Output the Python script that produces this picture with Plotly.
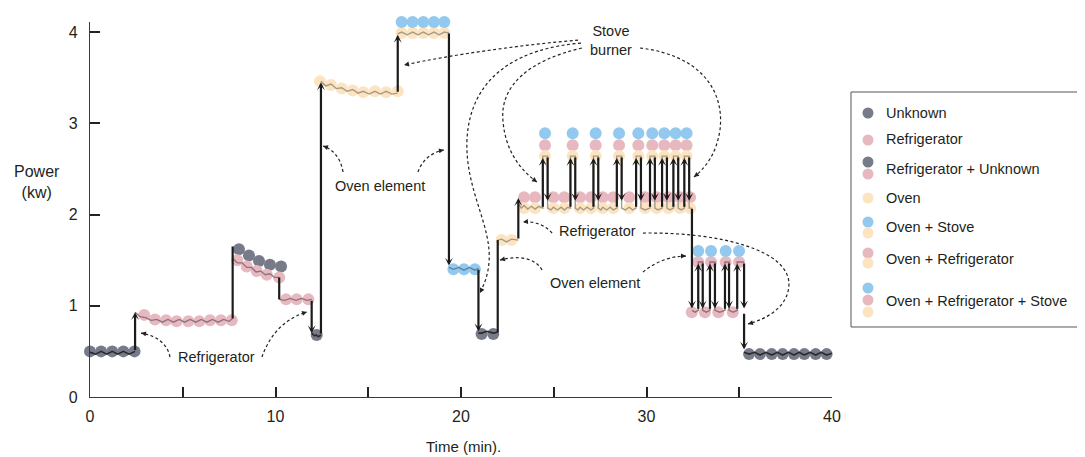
import math
import plotly.graph_objects as go

# ---------------- data (time in minutes, power in kW) ----------------
unknown_t = [0.0, 0.6, 1.2, 1.8, 2.4, 8.03, 8.57, 9.11, 9.70, 10.30, 12.22, 21.11, 21.74,
             35.53, 36.12, 36.75, 37.34, 37.95, 38.51, 39.12, 39.71]
unknown_p = [0.50, 0.50, 0.50, 0.50, 0.50, 1.62, 1.55, 1.49, 1.45, 1.43, 0.68, 0.69, 0.69,
             0.47, 0.47, 0.47, 0.47, 0.47, 0.47, 0.47, 0.47]

fridge_t = [2.92, 3.50, 4.10, 4.67, 5.30, 5.89, 6.47, 7.06, 7.64,
            7.94, 8.45, 8.99, 9.53, 10.20, 10.57, 11.14, 11.77,
            23.40, 23.99, 24.98, 25.57, 26.42, 27.01, 27.64, 28.21, 29.07, 29.92, 30.55, 31.17, 31.80, 32.35,
            24.53, 26.02, 27.26, 28.52, 29.56, 30.31, 30.96, 31.57, 32.16,
            32.44, 33.15, 33.87, 34.65,
            32.79, 33.48, 34.27, 34.99]
fridge_p = [0.90, 0.85, 0.84, 0.83, 0.83, 0.83, 0.84, 0.84, 0.84,
            1.50, 1.43, 1.38, 1.34, 1.31, 1.07, 1.07, 1.07,
            2.19, 2.19, 2.19, 2.19, 2.19, 2.19, 2.19, 2.19, 2.19, 2.19, 2.19, 2.19, 2.19, 2.19,
            2.76, 2.76, 2.76, 2.76, 2.76, 2.76, 2.76, 2.76, 2.76,
            0.93, 0.93, 0.93, 0.93,
            1.48, 1.48, 1.48, 1.48]

oven_t = [12.40, 12.99, 13.57, 14.16, 14.73, 15.36, 15.96, 16.59,
          16.80, 17.39, 17.97, 18.54, 19.10,
          22.19, 22.73,
          23.40, 23.99, 24.98, 25.57, 26.42, 27.01, 27.64, 28.21, 29.07, 29.92, 30.55, 31.17, 31.80, 32.35,
          24.53, 26.02, 27.26, 28.52, 29.56, 30.31, 30.96, 31.57, 32.16]
oven_p = [3.46, 3.42, 3.38, 3.36, 3.34, 3.35, 3.34, 3.35,
          3.99, 3.99, 3.99, 3.99, 3.99,
          1.72, 1.72,
          2.07, 2.07, 2.07, 2.07, 2.07, 2.07, 2.07, 2.07, 2.07, 2.07, 2.07, 2.07, 2.07, 2.07,
          2.64, 2.64, 2.64, 2.64, 2.64, 2.64, 2.64, 2.64, 2.64]

stove_t = [16.80, 17.39, 17.97, 18.54, 19.10,
           19.59, 20.16, 20.75,
           24.53, 26.02, 27.26, 28.52, 29.56, 30.31, 30.96, 31.57, 32.16,
           32.79, 33.48, 34.27, 34.99]
stove_p = [4.11, 4.11, 4.11, 4.11, 4.11,
           1.40, 1.40, 1.40,
           2.89, 2.89, 2.89, 2.89, 2.89, 2.89, 2.89, 2.89, 2.89,
           1.60, 1.60, 1.60, 1.60]

# measured power trace, piecewise
seg1_t = [0.0, 0.3, 0.6, 0.9, 1.2, 1.5, 1.8, 2.1, 2.43]
seg1_p = [0.49, 0.47, 0.50, 0.47, 0.50, 0.47, 0.50, 0.47, 0.50]
seg2_t = [2.43, 2.7, 3.0, 3.3, 3.6, 3.9, 4.2, 4.5, 4.8, 5.1, 5.4, 5.7, 6.0, 6.3, 6.6, 6.9, 7.2, 7.5, 7.69]
seg2_p = [0.93, 0.88, 0.87, 0.84, 0.85, 0.82, 0.85, 0.82, 0.85, 0.82, 0.85, 0.82, 0.85, 0.82, 0.85, 0.82, 0.85, 0.83, 0.86]
seg3_t = [7.69, 7.95, 8.2, 8.45, 8.7, 8.95, 9.2, 9.45, 9.7, 9.95, 10.2]
seg3_p = [1.52, 1.47, 1.47, 1.42, 1.42, 1.37, 1.38, 1.34, 1.35, 1.31, 1.31]
seg4_t = [10.2, 10.5, 10.8, 11.1, 11.4, 11.7, 11.95]
seg4_p = [1.07, 1.06, 1.08, 1.06, 1.08, 1.06, 1.07]
seg5_t = [11.95, 12.1, 12.2, 12.3, 12.45]
seg5_p = [0.70, 0.67, 0.68, 0.66, 0.68]
seg6_t = [12.45, 12.7, 12.99, 13.28, 13.57, 13.86, 14.16, 14.45, 14.73, 15.05, 15.36, 15.66, 15.96, 16.28, 16.59]
seg6_p = [3.46, 3.41, 3.43, 3.38, 3.39, 3.35, 3.37, 3.33, 3.35, 3.32, 3.35, 3.32, 3.35, 3.32, 3.33]
seg7_t = [16.59, 16.8, 17.1, 17.39, 17.68, 17.97, 18.25, 18.54, 18.82, 19.10, 19.35]
seg7_p = [3.98, 4.00, 3.97, 4.00, 3.97, 4.00, 3.97, 4.00, 3.97, 4.00, 3.99]
seg8_t = [19.35, 19.59, 19.87, 20.16, 20.45, 20.75, 20.94]
seg8_p = [1.42, 1.40, 1.42, 1.39, 1.42, 1.39, 1.41]
seg9_t = [20.94, 21.11, 21.4, 21.74, 21.98]
seg9_p = [0.70, 0.70, 0.72, 0.70, 0.71]
seg10_t = [21.98, 22.19, 22.45, 22.73, 23.09]
seg10_p = [1.72, 1.73, 1.70, 1.73, 1.72]
seg11_t = [23.09, 23.25, 23.40, 23.60, 23.80, 23.99, 24.20, 24.41, 24.41, 24.67, 24.67, 24.85, 24.98, 25.20,
           25.40, 25.57, 25.75, 25.90, 25.90, 26.16, 26.16, 26.30, 26.42, 26.60, 26.80, 27.01, 27.14, 27.14,
           27.40, 27.40, 27.55, 27.64, 27.85, 28.05, 28.21, 28.40, 28.40, 28.66, 28.66, 28.85, 29.07, 29.25,
           29.44, 29.44, 29.70, 29.70, 29.92, 30.19, 30.19, 30.45, 30.45, 30.62, 30.84, 30.84, 31.10, 31.10,
           31.27, 31.45, 31.45, 31.71, 31.71, 31.87, 32.04, 32.04, 32.30, 32.30, 32.45]
seg11_p = [2.12, 2.07, 2.10, 2.06, 2.09, 2.06, 2.09, 2.07, 2.64, 2.64, 2.07, 2.05, 2.08, 2.05,
           2.08, 2.05, 2.08, 2.07, 2.64, 2.64, 2.07, 2.05, 2.08, 2.05, 2.08, 2.05, 2.07, 2.64,
           2.64, 2.07, 2.05, 2.08, 2.05, 2.08, 2.05, 2.07, 2.64, 2.64, 2.07, 2.05, 2.08, 2.05,
           2.07, 2.64, 2.64, 2.07, 2.05, 2.07, 2.64, 2.64, 2.07, 2.05, 2.07, 2.64, 2.64, 2.07,
           2.05, 2.07, 2.64, 2.64, 2.07, 2.05, 2.07, 2.64, 2.64, 2.07, 2.07]
seg12_t = [32.45, 32.62, 32.79, 32.79, 33.03, 33.03, 33.22, 33.42, 33.42, 33.69, 33.69, 33.95, 34.23, 34.23,
           34.45, 34.45, 34.67, 34.89, 34.89, 35.26]
seg12_p = [0.95, 0.93, 0.95, 1.48, 1.48, 0.95, 0.93, 0.95, 1.48, 1.48, 0.95, 0.93, 0.95, 1.48,
           1.48, 0.95, 0.93, 0.95, 1.48, 1.48]
seg13_t = [35.26, 35.53, 35.83, 36.12, 36.43, 36.75, 37.05, 37.34, 37.65, 37.95, 38.23, 38.51, 38.82,
           39.12, 39.42, 39.71, 40.0]
seg13_p = [0.49, 0.47, 0.49, 0.46, 0.49, 0.46, 0.49, 0.46, 0.49, 0.46, 0.49, 0.46, 0.49, 0.46, 0.49, 0.46, 0.48]

# step changes drawn as arrows (time, from, to)
step_t = [2.43, 11.95, 12.45, 16.59, 19.35, 20.94, 23.09, 32.45, 35.26, 35.26]
step_from = [0.50, 1.07, 0.68, 3.33, 4.00, 1.41, 1.72, 2.08, 1.48, 0.93]
step_to = [0.93, 0.70, 3.45, 3.97, 1.44, 0.72, 2.18, 0.97, 0.97, 0.52]
spike_up_t = [24.41, 25.90, 27.14, 28.40, 29.44, 30.19, 30.84, 31.45, 32.04]
spike_down_t = [24.67, 26.16, 27.40, 28.66, 29.70, 30.45, 31.10, 31.71, 32.30]
spike_low, spike_high = 2.07, 2.64
low_up_t = [32.79, 33.42, 34.23, 34.89]
low_down_t = [33.03, 33.69, 34.45]
low_low, low_high = 0.95, 1.48
# step changes drawn without arrowheads
plain_t = [7.69, 10.20, 21.98]
plain_from = [0.86, 1.31, 0.71]
plain_to = [1.65, 1.07, 1.72]

x_ticks = [0, 5, 10, 15, 20, 25, 30, 35, 40]
x_tick_text = ["0", "", "10", "", "20", "", "30", "", "40"]
y_ticks = [0, 1, 2, 3, 4]

legend_labels = ["Unknown", "Refrigerator", "Refrigerator + Unknown", "Oven",
                 "Oven + Stove", "Oven + Refrigerator", "Oven + Refrigerator + Stove"]

# ---------------- style ----------------
FONT = "Liberation Sans, Arial, Helvetica, sans-serif"
TXT = "#231f20"
C_UNK = "#777a89"
C_FRI = "#e8b8c1"
C_OVN = "#fde4c1"
C_STV = "#93c9ee"
L_UNK = "#2a2a2a"
L_FRI = "#8c7378"
L_OVN = "#a59a88"
L_STV = "#5d7f9b"
ARROW = "#1b1b1b"
MS = 12

X_RANGE = [0, 40]
Y_RANGE = [0, 4.11]
# the page adds an 8px body margin, so the figure is 8px smaller than the window
W, H = 1077, 449
M = dict(l=82, r=253, t=14, b=60)
SX = (W - M["l"] - M["r"]) / (X_RANGE[1] - X_RANGE[0])
SY = (H - M["t"] - M["b"]) / (Y_RANGE[1] - Y_RANGE[0])

fig = go.Figure()

for t, p, c in [(unknown_t, unknown_p, C_UNK), (fridge_t, fridge_p, C_FRI),
                (oven_t, oven_p, C_OVN), (stove_t, stove_p, C_STV)]:
    fig.add_trace(go.Scatter(x=t, y=p, mode="markers", cliponaxis=False, hoverinfo="skip",
                             marker=dict(size=MS, color=c, line=dict(width=0)), showlegend=False))

segments = [(seg1_t, seg1_p, L_UNK, 1.6), (seg2_t, seg2_p, L_FRI, 1.3), (seg3_t, seg3_p, L_FRI, 1.3),
            (seg4_t, seg4_p, L_FRI, 1.3), (seg5_t, seg5_p, L_UNK, 1.6), (seg6_t, seg6_p, L_OVN, 1.4),
            (seg7_t, seg7_p, L_OVN, 1.4), (seg8_t, seg8_p, L_STV, 1.3), (seg9_t, seg9_p, L_UNK, 1.6),
            (seg10_t, seg10_p, L_OVN, 1.4), (seg11_t, seg11_p, L_OVN, 1.4), (seg12_t, seg12_p, L_FRI, 1.4),
            (seg13_t, seg13_p, L_UNK, 1.6)]
for t, p, c, w in segments:
    fig.add_trace(go.Scatter(x=t, y=p, mode="lines", line=dict(color=c, width=w),
                             hoverinfo="skip", showlegend=False))

px_, py_ = [], []
for t, a, b in zip(plain_t, plain_from, plain_to):
    px_ += [t, t, None]
    py_ += [a, b, None]
fig.add_trace(go.Scatter(x=px_, y=py_, mode="lines", line=dict(color=ARROW, width=2.2),
                         hoverinfo="skip", showlegend=False))

annotations = []


def data_arrow(t, a, b):
    annotations.append(dict(x=t, y=b, ax=t, ay=a, xref="x", yref="y", axref="x", ayref="y",
                            text="", showarrow=True, arrowhead=3, arrowsize=0.6, arrowwidth=2.2,
                            arrowcolor=ARROW, standoff=0, startstandoff=0))


for t, a, b in zip(step_t, step_from, step_to):
    data_arrow(t, a, b)
for t in spike_up_t:
    data_arrow(t, spike_low, spike_high - 0.02)
for t in spike_down_t:
    data_arrow(t, spike_high, spike_low + 0.08)
for t in low_up_t:
    data_arrow(t, low_low, low_high - 0.02)
for t in low_down_t:
    data_arrow(t, low_high, low_low + 0.02)

# ---------------- dashed callout curves (data coordinates) ----------------
curves = [
    [(4.31, 0.438), (4.20, 0.570), (3.67, 0.668), (2.75, 0.701)],
    [(9.27, 0.438), (9.60, 0.625), (10.24, 0.844), (11.70, 0.932)],
    [(13.64, 2.466), (13.53, 2.597), (13.21, 2.707), (12.56, 2.751)],
    [(17.68, 2.466), (17.90, 2.597), (18.44, 2.685), (19.08, 2.707)],
    [(26.31, 3.912), (23.18, 3.858), (19.41, 3.748), (16.93, 3.638)],
    [(26.47, 3.879), (23.18, 3.825), (20.49, 3.529), (20.32, 2.816),
     (20.22, 2.268), (21.67, 1.885), (21.51, 1.479),
     (21.46, 1.337), (21.24, 1.227), (21.02, 1.140)],
    [(26.52, 3.825), (23.72, 3.693), (22.10, 3.419), (22.26, 3.036),
     (22.37, 2.707), (23.18, 2.488), (24.10, 2.356)],
    [(29.65, 3.825), (32.88, 3.748), (34.23, 3.364), (33.96, 2.926),
     (33.75, 2.652), (33.15, 2.510), (32.56, 2.411)],
    [(24.91, 1.797), (24.53, 1.885), (23.99, 1.929), (23.34, 1.918)],
    [(29.81, 1.797), (33.96, 1.808), (37.74, 1.611), (37.68, 1.227),
     (37.63, 1.008), (36.66, 0.866), (35.47, 0.800)],
    [(24.37, 1.392), (23.99, 1.523), (23.18, 1.556), (22.10, 1.501)],
    [(29.81, 1.370), (30.46, 1.479), (31.27, 1.545), (32.13, 1.545)],
]

shapes = []
for pts in curves:
    path = "M%.3f,%.3f" % pts[0]
    for i in range(1, len(pts), 3):
        path += " C%.3f,%.3f %.3f,%.3f %.3f,%.3f" % (pts[i] + pts[i + 1] + pts[i + 2])
    shapes.append(dict(type="path", path=path, xref="x", yref="y",
                       line=dict(color="#222222", width=1.2, dash="3px,2.5px")))
    (ex, ey), (cx, cy) = pts[-1], pts[-2]
    dx, dy = (cx - ex) * SX, -(cy - ey) * SY
    n = math.hypot(dx, dy)
    annotations.append(dict(x=ex, y=ey, xref="x", yref="y", ax=dx / n * 5, ay=dy / n * 5,
                            text="", showarrow=True, arrowhead=2, arrowsize=1, arrowwidth=1,
                            arrowcolor="#222222", standoff=0))

# ---------------- text labels ----------------
lab_font = dict(family=FONT, size=14.5, color=TXT)
for txt, x, y in [("Refrigerator", 6.83, 0.442), ("Oven element", 15.66, 2.316),
                  ("Stove<br>burner", 28.09, 3.907), ("Refrigerator", 27.38, 1.815),
                  ("Oven element", 27.22, 1.245)]:
    annotations.append(dict(x=x, y=y, xref="x", yref="y", text=txt, showarrow=False,
                            font=lab_font, xanchor="center", yanchor="middle"))

annotations.append(dict(x=-0.072, y=0.573, xref="paper", yref="paper", text="Power<br>(kw)",
                        showarrow=False, font=dict(family=FONT, size=16, color=TXT),
                        xanchor="center", yanchor="middle"))
annotations.append(dict(x=0.5027, y=-0.131, xref="paper", yref="paper", text="Time (min).",
                        showarrow=False, font=dict(family=FONT, size=15, color=TXT),
                        xanchor="center", yanchor="middle"))

# ---------------- custom legend ----------------
shapes.append(dict(type="rect", xref="paper", yref="paper", x0=1.0256, x1=1.3370, y0=0.1867, y1=0.8133,
                   line=dict(color="#555555", width=1), fillcolor="rgba(0,0,0,0)"))
legend_dots = [[(C_UNK, 0.7573)], [(C_FRI, 0.6853)], [(C_UNK, 0.6267), (C_FRI, 0.5947)],
               [(C_OVN, 0.5307)], [(C_STV, 0.4667), (C_OVN, 0.4373)],
               [(C_FRI, 0.384), (C_OVN, 0.3573)],
               [(C_STV, 0.2907), (C_FRI, 0.2587), (C_OVN, 0.2267)]]
legend_text_y = [0.7573, 0.688, 0.608, 0.5307, 0.4533, 0.368, 0.256]
for label, dots, ty in zip(legend_labels, legend_dots, legend_text_y):
    for col, yy in dots:
        shapes.append(dict(type="circle", xref="paper", yref="paper", xsizemode="pixel", ysizemode="pixel",
                           xanchor=1.0485, yanchor=yy, x0=-5.5, x1=5.5, y0=-5.5, y1=5.5,
                           fillcolor=col, line=dict(width=0)))
    annotations.append(dict(x=1.0701, y=ty, xref="paper", yref="paper", text=label, showarrow=False,
                            font=dict(family=FONT, size=14.5, color=TXT), xanchor="left", yanchor="middle"))

axis_common = dict(showline=True, linecolor="#3a3a3a", linewidth=1.3, ticks="inside", ticklen=10,
                   tickwidth=2, tickcolor="#222222", showgrid=False, zeroline=False,
                   tickfont=dict(family=FONT, size=16, color=TXT), fixedrange=True)

fig.update_layout(
    width=W, height=H, margin=dict(l=M["l"], r=M["r"], t=M["t"], b=M["b"], pad=0),
    paper_bgcolor="white", plot_bgcolor="white", showlegend=False,
    xaxis=dict(range=X_RANGE, tickvals=x_ticks, ticktext=x_tick_text, ticklabelstandoff=5, **axis_common),
    yaxis=dict(range=Y_RANGE, tickvals=y_ticks, ticklabelstandoff=8, **axis_common),
    shapes=shapes, annotations=annotations,
)

fig.write_html("out.html")
